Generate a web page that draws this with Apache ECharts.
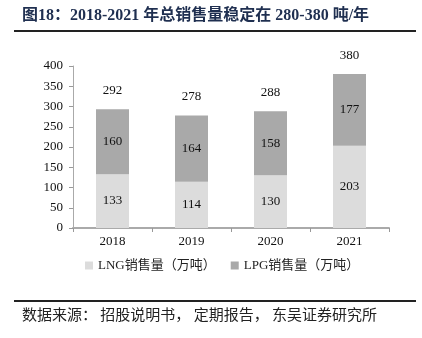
<!DOCTYPE html>
<html><head><meta charset="utf-8">
<script src="https://cdn.jsdelivr.net/npm/echarts@6/dist/echarts.min.js"></script>
<style>html,body{margin:0;padding:0;background:#fff}#c{width:422px;height:338px}</style>
</head><body><div id="c"></div>
<script>
const categories = ['2018', '2019', '2020', '2021'];
const lngValues = [133, 114, 130, 203];
const lpgValues = [160, 164, 158, 177];
const totals = [292, 278, 288, 380];
const yTicks = [0, 50, 100, 150, 200, 250, 300, 350, 400];
const titleText = '图18：2018-2021 年总销售量稳定在 280-380 吨/年';
const sourceText = '数据来源： 招股说明书， 定期报告， 东吴证券研究所';
const serif = '"Liberation Serif", "Noto Sans CJK SC", serif';

const chart = echarts.init(document.getElementById('c'));
chart.setOption({
  animation: false,
  backgroundColor: '#fff',
  graphic: [
    {type: 'text', left: 22, top: 8, style: {text: titleText, font: 'bold 16px "Liberation Serif", "Noto Sans CJK SC", serif', fill: '#1f2f50'}},
    {type: 'rect', shape: {x: 14, y: 30, width: 402, height: 2}, style: {fill: '#222'}},
    {type: 'rect', shape: {x: 14, y: 300, width: 402, height: 2}, style: {fill: '#222'}},
    {type: 'text', left: 22, top: 307, style: {text: sourceText, font: '15px "Noto Sans CJK SC", serif', fill: '#222'}}
  ],
  legend: {
    data: [{name: 'LNG销售量（万吨）'}, {name: 'LPG销售量（万吨）'}],
    left: 80, top: 254, itemWidth: 8, itemHeight: 8, itemGap: 15,
    icon: 'rect',
    textStyle: {fontFamily: serif, fontSize: 13, color: '#222'}
  },
  grid: {left: 73, top: 66, width: 316, height: 162},
  xAxis: {
    type: 'category', data: categories,
    axisLine: {lineStyle: {color: '#aaa', width: 2}},
    axisTick: {show: true, alignWithLabel: false, length: 4, lineStyle: {color: '#999'}},
    axisLabel: {fontFamily: serif, fontSize: 13, color: '#111', margin: 7}
  },
  yAxis: {
    type: 'value', min: yTicks[0], max: yTicks[yTicks.length - 1], interval: 50,
    splitLine: {show: false},
    axisLine: {show: true, lineStyle: {color: '#aaa'}},
    axisTick: {show: true, length: 4, lineStyle: {color: '#999'}},
    axisLabel: {fontFamily: serif, fontSize: 13, color: '#111', margin: 10}
  },
  series: [
    {name: 'LNG销售量（万吨）', type: 'bar', stack: 's', data: lngValues, barWidth: 33,
     itemStyle: {color: '#dcdcdc'},
     label: {show: true, position: 'inside', fontFamily: serif, fontSize: 13, color: '#111'}},
    {name: 'LPG销售量（万吨）', type: 'bar', stack: 's', data: lpgValues, barWidth: 33,
     itemStyle: {color: '#a9a9a9'},
     label: {show: true, position: 'inside', fontFamily: serif, fontSize: 13, color: '#111'}},
    {name: 'total', type: 'bar', stack: 's', data: totals.map(() => 0), barWidth: 33,
     itemStyle: {color: 'transparent'},
     label: {show: true, position: 'top', distance: 12, fontFamily: serif, fontSize: 13, color: '#111',
             formatter: p => totals[p.dataIndex]}}
  ]
});
</script></body></html>
